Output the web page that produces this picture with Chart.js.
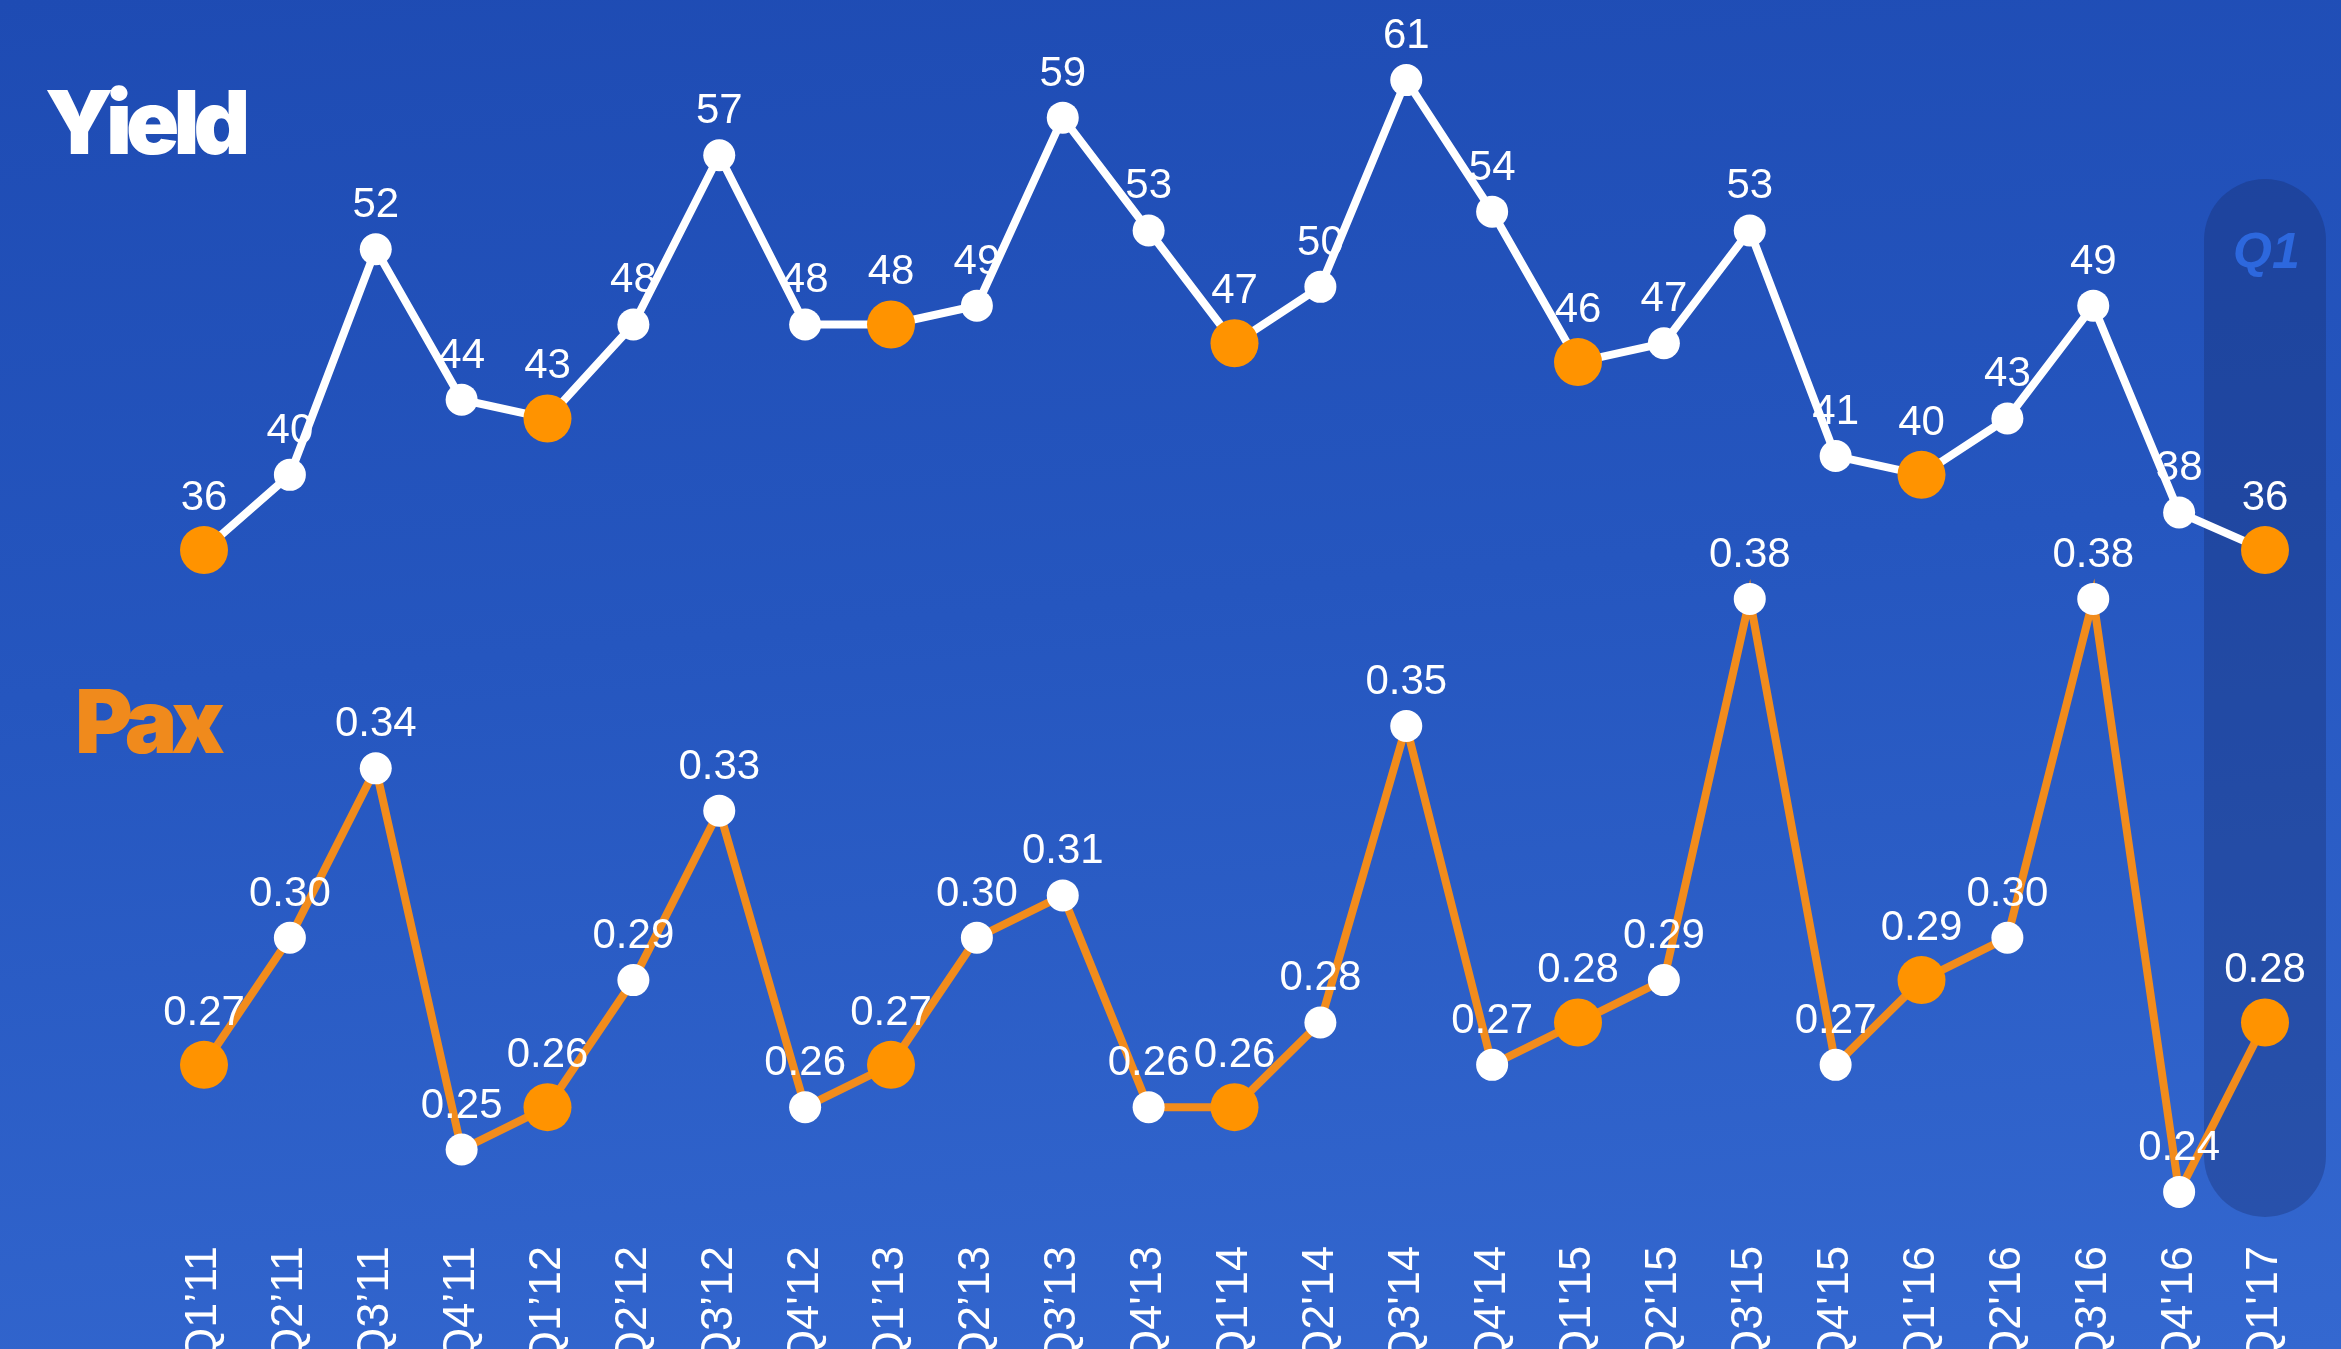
<!DOCTYPE html>
<html>
<head>
<meta charset="utf-8">
<script src="https://cdn.jsdelivr.net/npm/chart.js@4.4.1/dist/chart.umd.min.js"></script>
<style>
  html, body { margin: 0; padding: 0; }
  body {
    width: 2341px; height: 1349px; overflow: hidden; position: relative;
    background: linear-gradient(175deg, #1e4bb3 0%, #2556bf 45%, #3468d0 100%);
  }
  #wrap { position: absolute; left: 0; top: 0; width: 2341px; height: 1349px; }
  .title {
    position: absolute; font-family: Inter, "DejaVu Sans", sans-serif;
    font-weight: 900; font-size: 88px; line-height: 1; letter-spacing: -6px;
  }
  #yield-title { left: 45px; top: 78px; color: #ffffff; }
  #pax-title { left: 75px; top: 677px; color: #f08a1c; }
  #q1-tag {
    position: absolute; left: 2233px; top: 222px; color: #2d68de;
    font: italic bold 50px "Liberation Sans", Arial, sans-serif;
  }
</style>
</head>
<body>
<div id="wrap"><canvas id="yield-pax-chart"></canvas></div>
<div class="title" id="yield-title">Yield</div>
<div class="title" id="pax-title">Pax</div>
<div id="q1-tag">Q1</div>
<script>
const quarters = ["Q1’11", "Q2’11", "Q3’11", "Q4’11", "Q1’12", "Q2’12", "Q3’12", "Q4'12",
    "Q1’13", "Q2’13", "Q3’13", "Q4'13", "Q1'14", "Q2'14", "Q3'14", "Q4'14",
    "Q1'15", "Q2'15", "Q3'15", "Q4'15", "Q1'16", "Q2'16", "Q3'16", "Q4'16", "Q1'17"];
const yieldValues = [36, 40, 52, 44, 43, 48, 57, 48, 48, 49, 59, 53, 47, 50, 61, 54,
    46, 47, 53, 41, 40, 43, 49, 38, 36];
const paxValues = [0.27, 0.30, 0.34, 0.25, 0.26, 0.29, 0.33, 0.26, 0.27, 0.30, 0.31, 0.26,
    0.26, 0.28, 0.35, 0.27, 0.28, 0.29, 0.38, 0.27, 0.29, 0.30, 0.38, 0.24, 0.28];

const orange = '#ff9300';
const orangeLine = '#f28c1c';
const isQ1 = (i) => quarters[i].startsWith('Q1');

// dark pill behind the latest quarter
const highlightPlugin = {
    id: 'highlight',
    beforeDatasetsDraw(chart) {
        const ctx = chart.ctx;
        const x = chart.scales.x.getPixelForValue(quarters.length - 1);
        const w = 122, top = 179, bottom = 1217, r = w / 2;
        ctx.save();
        ctx.fillStyle = 'rgba(22, 40, 100, 0.32)';
        ctx.beginPath();
        ctx.roundRect(x - r, top, w, bottom - top, r);
        ctx.fill();
        ctx.restore();
    }
};

// value labels above each point
const valueLabels = {
    id: 'valueLabels',
    afterDatasetsDraw(chart) {
        const ctx = chart.ctx;
        ctx.save();
        ctx.font = '42px "Liberation Sans", Arial, sans-serif';
        ctx.fillStyle = '#ffffff';
        ctx.textAlign = 'center';
        ctx.textBaseline = 'alphabetic';
        chart.data.datasets.forEach((ds, di) => {
            chart.getDatasetMeta(di).data.forEach((pt, i) => {
                const v = ds.data[i];
                const text = di === 0 ? String(v) : v.toFixed(2);
                ctx.fillText(text, pt.x, pt.y - pt.options.radius - 16);
            });
        });
        ctx.restore();
    }
};

const chartCanvas = document.getElementById('yield-pax-chart');
let yieldPaxChart = new Chart(chartCanvas, {
    type: 'line',
    data: {
        labels: quarters,
        datasets: [{
            label: 'Yield',
            data: yieldValues,
            yAxisID: 'yYield',
            borderColor: '#ffffff',
            borderWidth: 8,
            tension: 0,
            pointRadius: (c) => isQ1(c.dataIndex) ? 24 : 16,
            pointBackgroundColor: (c) => isQ1(c.dataIndex) ? orange : '#ffffff',
            pointBorderWidth: 0,
            clip: false
        }, {
            label: 'Pax',
            data: paxValues,
            yAxisID: 'yPax',
            borderColor: orangeLine,
            borderWidth: 8,
            tension: 0,
            pointRadius: (c) => isQ1(c.dataIndex) ? 24 : 16,
            pointBackgroundColor: (c) => isQ1(c.dataIndex) ? orange : '#ffffff',
            pointBorderWidth: 0,
            clip: false
        }]
    },
    options: {
        responsive: true,
        maintainAspectRatio: false,
        animation: false,
        layout: {
            autoPadding: false,
            padding: { left: 204, right: 76, top: 0, bottom: 0 }
        },
        scales: {
            x: {
                offset: false,
                grid: { display: false },
                border: { display: false },
                ticks: {
                    color: '#ffffff',
                    maxRotation: 90,
                    minRotation: 90,
                    padding: 8,
                    autoSkip: false,
                    font: { family: '"Liberation Sans", Arial, sans-serif', size: 45 }
                },
                afterFit: (axis) => { axis.height = 119; }
            },
            yYield: {
                display: false,
                min: -0.17,
                max: 65.26
            },
            yPax: {
                display: false,
                min: 0.2310,
                max: 0.5214
            }
        },
        plugins: {
            legend: { display: false },
            tooltip: { enabled: false }
        }
    },
    plugins: [highlightPlugin, valueLabels]
});
</script>
</body>
</html>
